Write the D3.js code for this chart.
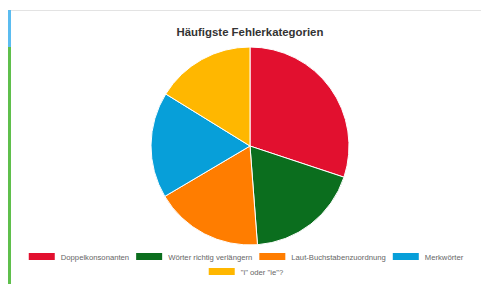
<!DOCTYPE html>
<html>
<head>
<meta charset="utf-8">
<script src="https://cdn.jsdelivr.net/npm/d3@7"></script>
<style>
  html, body { margin: 0; padding: 0; background: #fff; }
  svg { display: block; font-family: "Liberation Sans", Arial, sans-serif; }
</style>
</head>
<body>
<div id="chart"></div>
<script>
const categories = ['Doppelkonsonanten', 'Wörter richtig verlängern', 'Laut-Buchstabenzuordnung', 'Merkwörter', '"i" oder "ie"?'];
const values = [30.1, 18.7, 17.7, 17.3, 16.2];
const colors = ['#e2102f', '#0b6e1e', '#ff7d00', '#079fd9', '#ffb700'];

const width = 481;
const height = 284;

const svg = d3.select('#chart')
  .append('svg')
  .attr('width', width)
  .attr('height', height);

// card frame: top border + coloured left strip
svg.append('line')
  .attr('x1', 11).attr('x2', width)
  .attr('y1', 10.5).attr('y2', 10.5)
  .attr('stroke', '#e3e3e3');
svg.append('rect')
  .attr('x', 8).attr('y', 10).attr('width', 3).attr('height', 37)
  .attr('fill', '#5bbcf0');
svg.append('rect')
  .attr('x', 8).attr('y', 47).attr('width', 3).attr('height', height - 47)
  .attr('fill', '#5fbf4c');

svg.append('text')
  .attr('x', 250)
  .attr('y', 36)
  .attr('text-anchor', 'middle')
  .style('font-size', '11.4px')
  .style('font-weight', 'bold')
  .style('fill', '#333')
  .text('Häufigste Fehlerkategorien');

const cx = 250, cy = 146, r = 99;

const pie = d3.pie().sort(null).value(d => d);
const arc = d3.arc().innerRadius(0).outerRadius(r);

svg.append('g')
  .attr('transform', `translate(${cx}, ${cy})`)
  .selectAll('path')
  .data(pie(values))
  .enter()
  .append('path')
  .attr('d', arc)
  .attr('fill', (d, i) => colors[i])
  .attr('stroke', '#fff')
  .attr('stroke-width', 1);

// legend, chart.js style: rows centred
const boxW = 26, boxH = 7, gap = 6, itemGap = 7;
const rows = [[0, 1, 2, 3], [4]];
const rowY = [253, 268];
const legendCenter = 246;

const legend = svg.append('g');

rows.forEach((row, ri) => {
  const items = row.map(i => {
    const t = legend.append('text')
      .style('font-size', '7.7px')
      .style('fill', '#666')
      .text(categories[i]);
    return { i, t, w: t.node().getComputedTextLength() };
  });
  const total = d3.sum(items, d => boxW + gap + d.w) + itemGap * (items.length - 1);
  let x = legendCenter - total / 2;
  items.forEach(d => {
    legend.append('rect')
      .attr('x', x).attr('y', rowY[ri])
      .attr('width', boxW).attr('height', boxH)
      .attr('fill', colors[d.i]);
    d.t.attr('x', x + boxW + gap).attr('y', rowY[ri] + 6.5);
    x += boxW + gap + d.w + itemGap;
  });
});
</script>
</body>
</html>
